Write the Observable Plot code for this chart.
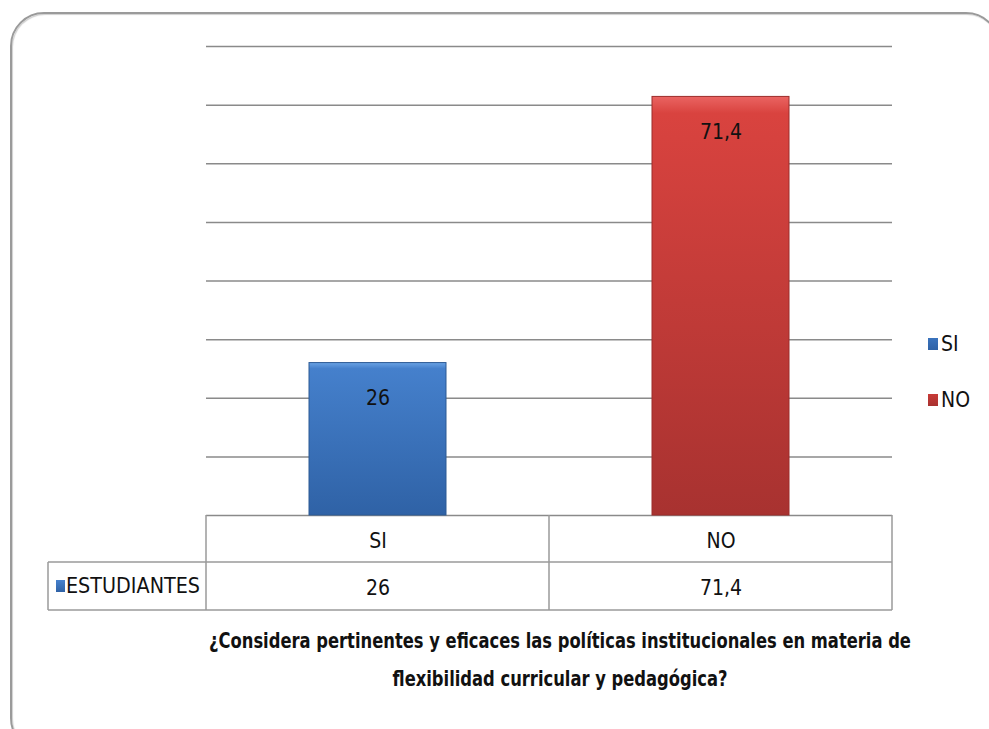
<!DOCTYPE html>
<html>
<head>
<meta charset="utf-8">
<script src="https://cdn.jsdelivr.net/npm/d3@7"></script>
<script src="https://cdn.jsdelivr.net/npm/@observablehq/plot@0.6"></script>
<style>
  html, body { margin: 0; padding: 0; background: #fff; overflow: hidden; }
  #wrap { position: relative; width: 989px; height: 729px; overflow: hidden;
          font-family: "DejaVu Sans Condensed", "Liberation Sans", sans-serif; }
  #frame { position: absolute; left: 10px; top: 12px; width: 990px; height: 740px;
           border: 2px solid #9a9a9a; border-radius: 34px; box-sizing: border-box;
           box-shadow: inset 1px 1px 1px #d0d0d0; }
  #chart { position: absolute; left: 0; top: 0; }
  #legend { position: absolute; left: 928px; top: 332px; font-size: 21px; color: #111; }
  .li { position: absolute; left: 0; white-space: nowrap; display: flex; align-items: center; }
  .sw { display: inline-block; width: 10px; height: 12px; margin-right: 3px; }
  #title { position: absolute; left: 110px; width: 900px; top: 622px; text-align: center;
           font-weight: bold; font-size: 21px; line-height: 38px; color: #111;
           transform: scaleX(0.865); transform-origin: 450px 0; }
</style>
</head>
<body>
<div id="wrap">
  <div id="frame"></div>
  <div id="chart"></div>
  <div id="legend"></div>
  <div id="title"></div>
</div>
<script>
const categories = ["SI", "NO"];
const values = [26, 71.4];
const valueLabels = ["26", "71,4"];
const seriesName = "ESTUDIANTES";
const gridTicks = [0, 10, 20, 30, 40, 50, 60, 70, 80];
const titleLines = ["¿Considera pertinentes y eficaces las políticas institucionales en materia de",
                    "flexibilidad curricular y pedagógica?"];
const barColors = { SI: "#3a73bd", NO: "#c83a37" };

const data = categories.map((c, i) => ({ cat: c, value: values[i], label: valueLabels[i] }));

const W = 989, H = 729;
const mL = 206, mR = 97, mT = 46, mB = 214;
const font = '"DejaVu Sans Condensed", "Liberation Sans", sans-serif';

const plot = Plot.plot({
  width: W, height: H,
  marginLeft: mL, marginRight: mR, marginTop: mT, marginBottom: mB,
  style: { fontFamily: font, fontSize: "20px", background: "transparent", overflow: "visible" },
  x: { domain: categories, paddingInner: 0.6, paddingOuter: 0.3, axis: null },
  y: { domain: [0, 80], axis: null },
  marks: [
    Plot.ruleY(gridTicks, { stroke: "#8a8a8a", strokeWidth: 1.5 }),
    Plot.barY(data.filter(d => d.cat === "SI"), { x: "cat", y: "value", fill: "url(#gSI)", stroke: "#2c5a94", strokeWidth: 1 }),
    Plot.barY(data.filter(d => d.cat === "NO"), { x: "cat", y: "value", fill: "url(#gNO)", stroke: "#9c2c2a", strokeWidth: 1 }),
    Plot.text(data, { x: "cat", y: "value", text: "label", dy: 35, fill: "#111", fontSize: 21 }),
    Plot.text(data, { x: "cat", text: "cat", frameAnchor: "bottom", lineAnchor: "middle", dy: 26, fill: "#111", fontSize: 21 }),
    Plot.text(data, { x: "cat", text: "label", frameAnchor: "bottom", lineAnchor: "middle", dy: 73, fill: "#111", fontSize: 21 })
  ]
});
document.getElementById("chart").appendChild(plot);

// gradients & table lines
const svg = d3.select(plot);
const defs = svg.insert("defs", ":first-child");
function grad(id, top, mid, bot) {
  const g = defs.append("linearGradient").attr("id", id).attr("x1", 0).attr("y1", 0).attr("x2", 0).attr("y2", 1);
  g.append("stop").attr("offset", "0").attr("stop-color", top);
  g.append("stop").attr("offset", "0.04").attr("stop-color", mid);
  g.append("stop").attr("offset", "1").attr("stop-color", bot);
}
grad("gSI", "#6aa2e4", "#4580cc", "#2f62a6");
grad("gNO", "#ea6462", "#d9433f", "#a83230");

const xs = plot.scale("x");
const bw = xs.bandwidth;
const centers = categories.map(c => xs.apply(c) + bw / 2);
const left = mL, right = W - mR, mid = (centers[0] + centers[1]) / 2;
const y0 = H - mB, y1 = y0 + 47, y2 = y0 + 95;
const tbl = svg.append("g").attr("stroke", "#9a9a9a").attr("stroke-width", 1.5).attr("fill", "none");
[[left, y0, left, y2], [mid, y0, mid, y2], [right, y0, right, y2],
 [left, y1, right, y1], [left, y2, right, y2],
 [48, y1, left, y1], [48, y2, left, y2], [48, y1, 48, y2]].forEach(l =>
  tbl.append("line").attr("x1", l[0]).attr("y1", l[1]).attr("x2", l[2]).attr("y2", l[3]));
// series label cell
const lg = svg.append("g");
lg.append("rect").attr("x", 56).attr("y", (y1 + y2) / 2 - 6).attr("width", 9).attr("height", 12).attr("fill", "url(#gSI)");
lg.append("text").attr("x", 66).attr("y", (y1 + y2) / 2).attr("dy", "0.35em")
  .attr("text-anchor", "start").attr("font-size", 21).attr("fill", "#111")
  .attr("font-family", font).attr("textLength", 134).attr("lengthAdjust", "spacingAndGlyphs").text(seriesName);

// legend
const legend = document.getElementById("legend");
categories.forEach((c, i) => {
  const d = document.createElement("div");
  d.className = "li";
  d.style.top = (i * 56) + "px";
  d.innerHTML = `<span class="sw" style="background:linear-gradient(${barColors[c]}, ${c === "SI" ? "#2f62a6" : "#a83230"})"></span>${c}`;
  legend.appendChild(d);
});
// title
document.getElementById("title").innerHTML = titleLines.join("<br>");
</script>
</body>
</html>
